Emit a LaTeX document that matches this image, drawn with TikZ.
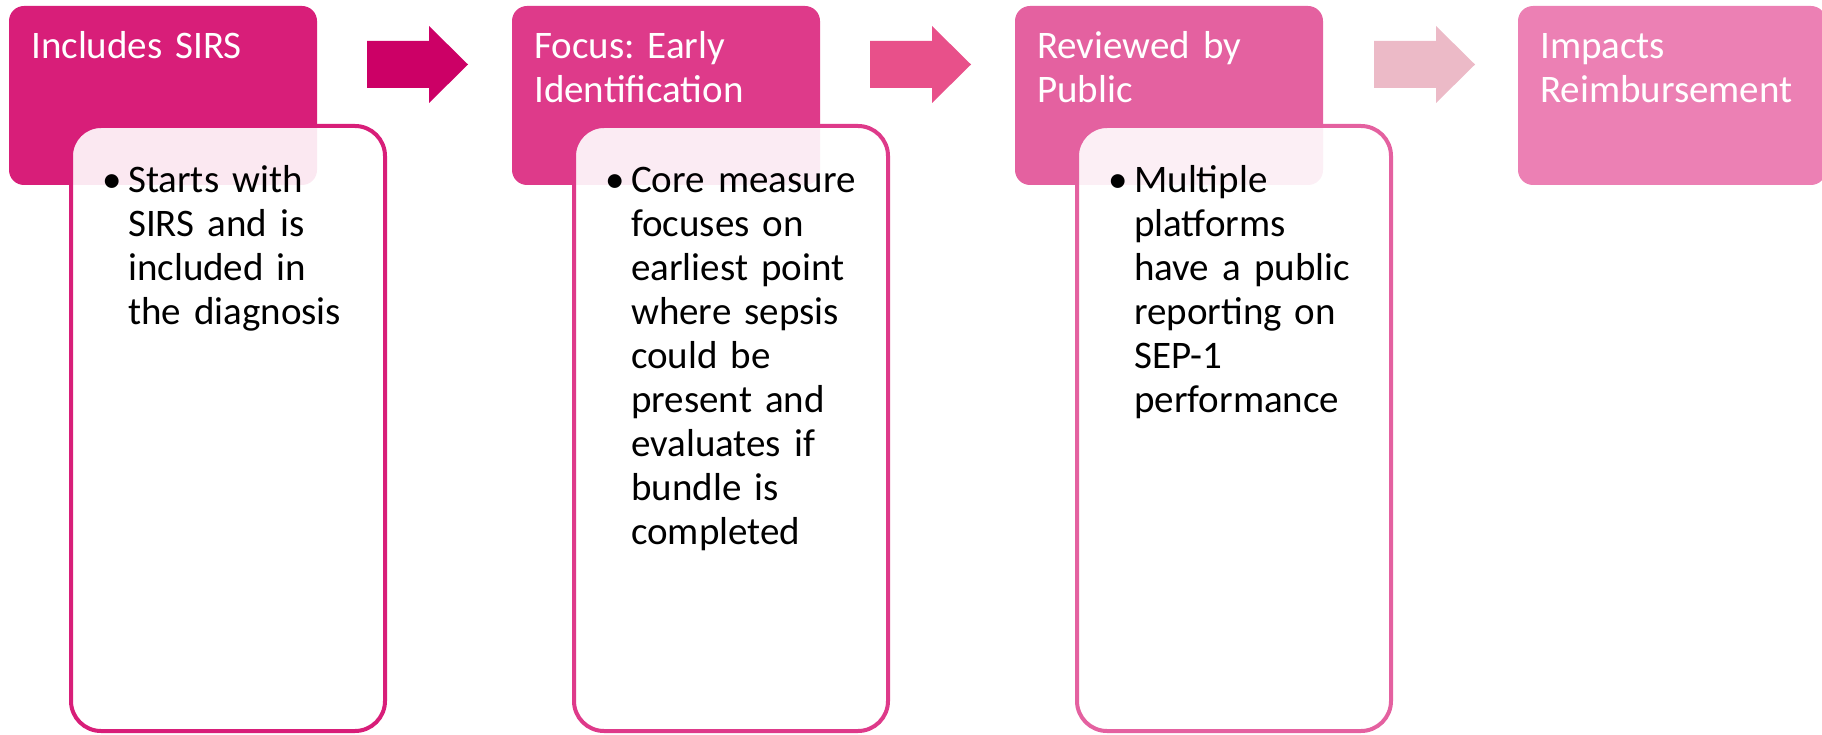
\documentclass[tikz,border=0pt]{standalone}
\usepackage{fontspec}
\setmainfont{Carlito}
\usetikzlibrary{calc}
\definecolor{stageA}{HTML}{D81E79}
\definecolor{stageB}{HTML}{DE3A8A}
\definecolor{stageC}{HTML}{E461A0}
\definecolor{stageD}{HTML}{EC80B4}
\definecolor{arrowA}{HTML}{CC0066}
\definecolor{arrowB}{HTML}{E8508A}
\definecolor{arrowC}{HTML}{ECBAC7}
\tikzset{
  blockarrow/.pic={\fill[#1] (0,-23.5) -- (62,-23.5) -- (62,-38.5) -- (101,0)
     -- (62,38.5) -- (62,23.5) -- (0,23.5) -- cycle;}
}
\frenchspacing
\begin{document}
\begin{tikzpicture}[x=1pt,y=-1pt,
  stage/.style={rectangle, rounded corners=15pt, minimum width=308pt,
    minimum height=179pt, inner sep=0pt, outer sep=0pt, anchor=north west, fill=#1},
  detail/.style={rectangle, rounded corners=30pt, line width=4pt, draw=#1,
    fill=white, fill opacity=0.9, minimum width=314pt, minimum height=605pt,
    inner sep=0pt, outer sep=0pt, anchor=north west},
  title/.style={text=white, anchor=base west, inner sep=0pt, text width=300pt,
    align=left, font=\fontsize{39}{44}\selectfont\frenchspacing},
  bullets/.style={text=black, anchor=base west, inner sep=0pt, text width=300pt,
    align=left, font=\fontsize{39}{44}\selectfont\frenchspacing},
]
\useasboundingbox (0,0) rectangle (1822,735);

% stage 1
\node[stage=stageA] (b1) at (9,6) {};
\node[title] (t1) at ($(b1.north west)+(22,53)$) {Includes SIRS};
\node[detail=stageA] (d1) at ($(b1.north west)+(62,120)$) {};
\node[bullets] (l1) at ($(d1.north west)+(57,67)$)
  {\leavevmode\llap{•\hspace{6pt}}Starts with\\SIRS and is\\included in\\the diagnosis};

% stage 2
\node[stage=stageB] (b2) at (512,6) {};
\node[title] (t2) at ($(b2.north west)+(22,53)$) {Focus: Early\\Identification};
\node[detail=stageB] (d2) at ($(b2.north west)+(62,120)$) {};
\node[bullets] (l2) at ($(d2.north west)+(57,67)$)
  {\leavevmode\llap{•\hspace{6pt}}Core measure\\focuses on\\earliest point\\where sepsis\\could be\\present and\\evaluates if\\bundle is\\completed};

% stage 3
\node[stage=stageC] (b3) at (1015,6) {};
\node[title] (t3) at ($(b3.north west)+(22,53)$) {Reviewed by\\Public};
\node[detail=stageC] (d3) at ($(b3.north west)+(62,120)$) {};
\node[bullets] (l3) at ($(d3.north west)+(57,67)$)
  {\leavevmode\llap{•\hspace{6pt}}Multiple\\platforms\\have a public\\reporting on\\SEP-1\\performance};

% stage 4
\node[stage=stageD] (b4) at (1518,6) {};
\node[title] (t4) at ($(b4.north west)+(22,53)$) {Impacts\\Reimbursement};

% arrows between the stages
\pic at ($(b1.north east)+(50,58.5)$) {blockarrow=arrowA};
\pic at ($(b2.north east)+(50,58.5)$) {blockarrow=arrowB};
\pic at ($(b3.north east)+(51,58.5)$) {blockarrow=arrowC};
\end{tikzpicture}
\end{document}
